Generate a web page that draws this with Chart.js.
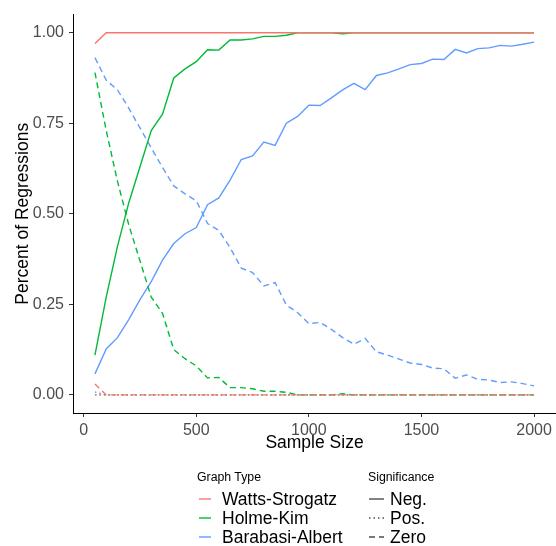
<!DOCTYPE html>
<html>
<head>
<meta charset="utf-8">
<script src="https://cdn.jsdelivr.net/npm/chart.js@4"></script>
<style>
  html, body { margin: 0; padding: 0; background: #fff; }
  #wrap { position: relative; width: 556px; height: 546px; font-family: "Liberation Sans", Arial, sans-serif; }
  #wrap canvas { position: absolute; left: 0; top: 0; }
  .lg { position: absolute; white-space: nowrap; transform: translateY(-50%); color: #000; }
  .lg-title { font-size: 12.3px; }
  .lg-item { font-size: 17.5px; }
  .key { position: absolute; }
</style>
</head>
<body>
<div id="wrap">
  <canvas id="chart" width="556" height="546"></canvas>
  <div id="legend"></div>
</div>
<script>
// sample sizes on the x axis
const sampleSizes = [50, 100, 150, 200, 250, 300, 350, 400, 450, 500,
    550, 600, 650, 700, 750, 800, 850, 900, 950, 1000,
    1050, 1100, 1150, 1200, 1250, 1300, 1350, 1400, 1450, 1500,
    1550, 1600, 1650, 1700, 1750, 1800, 1850, 1900, 1950, 2000];

// share of regressions per graph type and significance
const wsNeg = [0.97, 1, 1, 1, 1, 1, 1, 1, 1, 1,
    1, 1, 1, 1, 1, 1, 1, 1, 1, 1,
    1, 1, 1, 1, 1, 1, 1, 1, 1, 1,
    1, 1, 1, 1, 1, 1, 1, 1, 1, 1];
const wsPos = [0, 0, 0, 0, 0, 0, 0, 0, 0, 0,
    0, 0, 0, 0, 0, 0, 0, 0, 0, 0,
    0, 0, 0, 0, 0, 0, 0, 0, 0, 0,
    0, 0, 0, 0, 0, 0, 0, 0, 0, 0];
const wsZero = [0.03, 0, 0, 0, 0, 0, 0, 0, 0, 0,
    0, 0, 0, 0, 0, 0, 0, 0, 0, 0,
    0, 0, 0, 0, 0, 0, 0, 0, 0, 0,
    0, 0, 0, 0, 0, 0, 0, 0, 0, 0];

const hkNeg = [0.11, 0.27, 0.41, 0.53, 0.63, 0.73, 0.775, 0.875, 0.90, 0.92,
    0.953, 0.952, 0.98, 0.98, 0.983, 0.99, 0.99, 0.993, 1, 1,
    1, 1, 0.997, 1, 1, 1, 1, 1, 1, 1,
    1, 1, 1, 1, 1, 1, 1, 1, 1, 1];
const hkPos = [0, 0, 0, 0, 0, 0, 0, 0, 0, 0,
    0, 0, 0, 0, 0, 0, 0, 0, 0, 0,
    0, 0, 0, 0, 0, 0, 0, 0, 0, 0,
    0, 0, 0, 0, 0, 0, 0, 0, 0, 0];
const hkZero = [0.89, 0.73, 0.59, 0.47, 0.37, 0.27, 0.225, 0.125, 0.10, 0.08,
    0.047, 0.048, 0.02, 0.02, 0.017, 0.01, 0.01, 0.007, 0, 0,
    0, 0, 0.003, 0, 0, 0, 0, 0, 0, 0,
    0, 0, 0, 0, 0, 0, 0, 0, 0, 0];

const baNeg = [0.058, 0.127, 0.158, 0.208, 0.263, 0.313, 0.372, 0.418, 0.445, 0.462,
    0.525, 0.544, 0.593, 0.65, 0.66, 0.698, 0.689, 0.75, 0.769, 0.80,
    0.799, 0.82, 0.842, 0.86, 0.843, 0.882, 0.889, 0.90, 0.912, 0.915,
    0.927, 0.926, 0.954, 0.944, 0.956, 0.958, 0.965, 0.963, 0.968, 0.974];
const baPos = [0.008, 0, 0, 0, 0, 0, 0, 0, 0, 0,
    0, 0, 0, 0, 0, 0, 0, 0, 0, 0,
    0, 0, 0, 0, 0, 0, 0, 0, 0, 0,
    0, 0, 0, 0, 0, 0, 0, 0, 0, 0];
const baZero = [0.931, 0.869, 0.842, 0.792, 0.737, 0.682, 0.628, 0.577, 0.555, 0.536,
    0.473, 0.454, 0.407, 0.35, 0.338, 0.301, 0.31, 0.248, 0.227, 0.197,
    0.2, 0.181, 0.158, 0.14, 0.156, 0.119, 0.11, 0.099, 0.088, 0.084,
    0.074, 0.072, 0.046, 0.055, 0.043, 0.041, 0.034, 0.036, 0.031, 0.025];

const yTicks = [0, 0.25, 0.5, 0.75, 1];
const xTicks = [0, 500, 1000, 1500, 2000];

const graphTypes = ["Watts-Strogatz", "Holme-Kim", "Barabasi-Albert"];
const significance = ["Neg.", "Pos.", "Zero"];

const colors = ["#F8766D", "#00BA38", "#619CFF"];
const dashes = [[], [1.5, 3], [6, 4]];

const FONT = '"Liberation Sans", Arial, sans-serif';

const seriesByType = [
    [wsNeg, wsPos, wsZero],
    [hkNeg, hkPos, hkZero],
    [baNeg, baPos, baZero]
];

// first dataset ends up on top, so Watts-Strogatz goes first
const datasets = [];
seriesByType.forEach((group, g) => {
    group.forEach((vals, s) => {
        datasets.push({
            label: graphTypes[g] + " " + significance[s],
            data: sampleSizes.map((n, i) => ({ x: n, y: vals[i] })),
            borderColor: colors[g],
            borderWidth: 1.4,
            borderDash: dashes[s],
            pointRadius: 0,
            tension: 0,
            fill: false
        });
    });
});

new Chart(document.getElementById("chart"), {
    type: "line",
    data: { datasets: datasets },
    options: {
        responsive: false,
        animation: false,
        events: [],
        layout: { padding: { top: 9, right: 0, bottom: 92, left: 0 } },
        plugins: {
            legend: { display: false },
            tooltip: { enabled: false }
        },
        scales: {
            x: {
                type: "linear",
                min: -47.5,
                max: 2097.5,
                afterBuildTicks: (scale) => { scale.ticks = xTicks.map(v => ({ value: v })); },
                afterFit: (scale) => { scale.height = 41; },
                grid: { display: true, drawOnChartArea: false, drawTicks: true, tickLength: 4, tickColor: "#333", tickWidth: 1 },
                border: { display: true, color: "#000", width: 1 },
                ticks: {
                    color: "#4D4D4D",
                    font: { family: FONT, size: 16 },
                    padding: 4,
                    maxRotation: 0,
                    callback: (v) => v
                },
                title: {
                    display: true,
                    text: "Sample Size",
                    color: "#000",
                    font: { family: FONT, size: 17.5 },
                    padding: { top: 0, bottom: 0 }
                }
            },
            y: {
                type: "linear",
                min: -0.05,
                max: 1.05,
                afterBuildTicks: (scale) => { scale.ticks = yTicks.map(v => ({ value: v })); },
                afterFit: (scale) => { scale.width = 73; },
                grid: { display: true, drawOnChartArea: false, drawTicks: true, tickLength: 4, tickColor: "#333", tickWidth: 1 },
                border: { display: true, color: "#000", width: 1 },
                ticks: {
                    color: "#4D4D4D",
                    font: { family: FONT, size: 16 },
                    padding: 5,
                    callback: (v) => Number(v).toFixed(2)
                },
                title: {
                    display: true,
                    text: "Percent of Regressions",
                    color: "#000",
                    font: { family: FONT, size: 17.5 },
                    padding: { top: 13, bottom: 0 }
                }
            }
        }
    }
});

// legend below the plot, built as plain HTML
const legend = document.getElementById("legend");
const svgNS = "http://www.w3.org/2000/svg";

function addText(text, x, y, cls) {
    const el = document.createElement("div");
    el.className = "lg " + cls;
    el.style.left = x + "px";
    el.style.top = y + "px";
    el.textContent = text;
    legend.appendChild(el);
}

function addKey(x, y, w, color, dash) {
    const svg = document.createElementNS(svgNS, "svg");
    svg.setAttribute("class", "key");
    svg.setAttribute("width", w);
    svg.setAttribute("height", 4);
    svg.style.left = x + "px";
    svg.style.top = (y - 2) + "px";
    const line = document.createElementNS(svgNS, "line");
    line.setAttribute("x1", 0);
    line.setAttribute("x2", w);
    line.setAttribute("y1", 2);
    line.setAttribute("y2", 2);
    line.setAttribute("stroke", color);
    line.setAttribute("stroke-width", 1.4);
    if (dash.length) line.setAttribute("stroke-dasharray", dash.join(" "));
    svg.appendChild(line);
    legend.appendChild(svg);
}

const rowY = [499, 518, 537];

addText("Graph Type", 197, 477, "lg-title");
graphTypes.forEach((name, i) => {
    addKey(199, rowY[i], 12, colors[i], []);
    addText(name, 222, rowY[i], "lg-item");
});

addText("Significance", 368, 477, "lg-title");
significance.forEach((name, i) => {
    addKey(369, rowY[i], 15, "#4D4D4D", dashes[i]);
    addText(name, 390, rowY[i], "lg-item");
});
</script>
</body>
</html>
